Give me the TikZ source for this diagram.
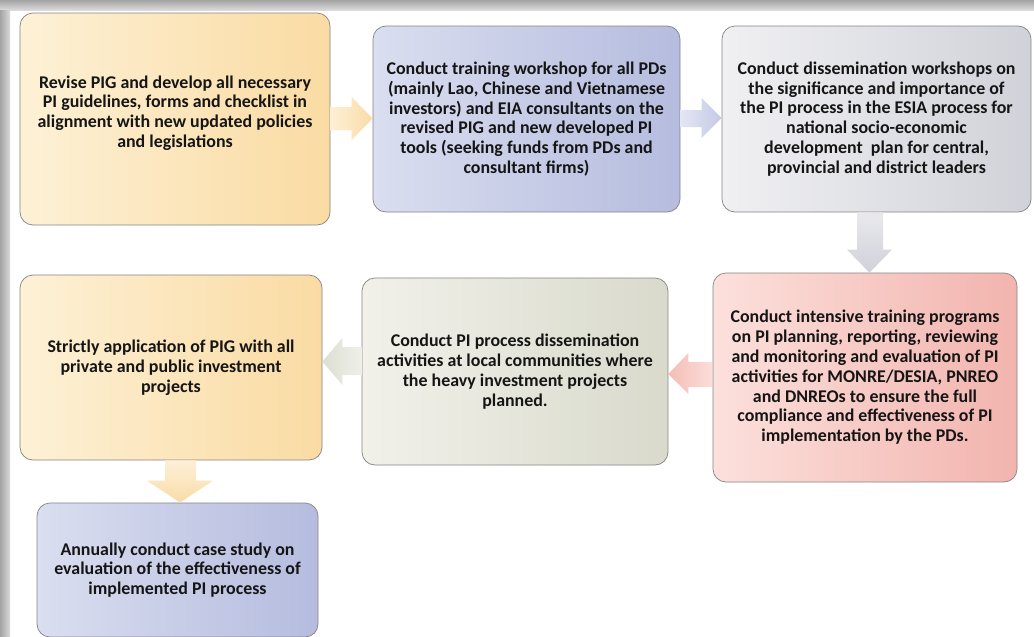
\documentclass[tikz,border=0pt]{standalone}
\usepackage{fontspec}
\setmainfont{Carlito}
\usetikzlibrary{calc}
\definecolor{yelA}{HTML}{FDF1D6}
\definecolor{yelB}{HTML}{FADBA3}
\definecolor{bluA}{HTML}{DADEF0}
\definecolor{bluB}{HTML}{B5BCDE}
\definecolor{gryA}{HTML}{F0F0F3}
\definecolor{gryB}{HTML}{D1D2D9}
\definecolor{pnkA}{HTML}{FCE0DC}
\definecolor{pnkB}{HTML}{F2B4AE}
\definecolor{beiA}{HTML}{F1F1EA}
\definecolor{beiB}{HTML}{D9DACC}
\definecolor{arYA}{HTML}{FDF0D7}
\definecolor{arYB}{HTML}{F9DCA8}
\definecolor{arBA}{HTML}{E3E6F3}
\definecolor{arBB}{HTML}{C5CAE5}
\definecolor{arGA}{HTML}{E9E9ED}
\definecolor{arGB}{HTML}{D0D1DA}
\definecolor{arPA}{HTML}{FBDEDA}
\definecolor{arPB}{HTML}{F5BDB6}
\definecolor{arEA}{HTML}{EEEFE7}
\definecolor{arEB}{HTML}{DEDFD3}
\definecolor{bordergray}{HTML}{858585}
\definecolor{txtcol}{HTML}{151515}
\definecolor{shadA}{HTML}{A4A4A4}
\definecolor{shadB}{HTML}{DADADA}
\begin{document}
\begin{tikzpicture}[x=1pt,y=-1pt,
  box/.style={draw=bordergray, line width=0.7pt, rounded corners=13pt,
    align=center, inner sep=0pt, text=txtcol,
    font=\fontsize{17.9}{19.8}\selectfont\bfseries},
  txt/.style={align=center, inner sep=0pt, text=txtcol,
    font=\fontsize{17.9}{19.8}\selectfont\bfseries}]
\useasboundingbox (0,0) rectangle (1034,637);
\begin{scope}
\clip (0,0) rectangle (1034,637);
\fill[white] (0,0) rectangle (1034,637);
\shade[top color=shadA, bottom color=shadB] (0,0) rectangle (1034,10);
\shade[left color=shadA, right color=shadB] (0,10) rectangle (10,637);

\node[box, minimum width=310pt, minimum height=212pt, left color=yelA, right color=yelB] (b1) at (175,119) {};
\node[txt] (t1) at ([yshift=6pt]b1.center)
  {Revise PIG and develop all necessary\\PI guidelines, forms and checklist in\\alignment with new updated policies\\and legislations};
\node[box, minimum width=307pt, minimum height=186pt, left color=bluA, right color=bluB] (b2) at (526.5,119)
  {Conduct training workshop for all PDs\\(mainly Lao, Chinese and Vietnamese\\investors) and EIA consultants on the\\revised PIG and new developed PI\\tools (seeking funds from PDs and\\consultant firms)};
\node[box, minimum width=309pt, minimum height=186pt, left color=gryA, right color=gryB] (b3) at (876.5,119)
  {Conduct dissemination workshops on\\the significance and importance of\\the PI process in the ESIA process for\\national socio-economic\\development\ \ plan for central,\\provincial and district leaders};
\node[box, minimum width=304pt, minimum height=209pt, left color=pnkA, right color=pnkB] (b4) at (865,377.5)
  {Conduct intensive training programs\\on PI planning, reporting, reviewing\\and monitoring and evaluation of PI\\activities for MONRE/DESIA, PNREO\\and DNREOs to ensure the full\\compliance and effectiveness of PI\\implementation by the PDs.};
\node[box, minimum width=306pt, minimum height=187pt, left color=beiA, right color=beiB] (b5) at (515,371.5)
  {Conduct PI process dissemination\\activities at local communities where\\the heavy investment projects\\planned.};
\node[box, minimum width=302pt, minimum height=185pt, left color=yelA, right color=yelB] (b6) at (171,367.5)
  {Strictly application of PIG with all\\private and public investment\\projects};
\node[box, minimum width=281pt, minimum height=134pt, left color=bluA, right color=bluB] (b7) at (177.5,570)
  {Annually conduct case study on\\evaluation of the effectiveness of\\implemented PI process};

% arrow b1 -> b2
\path[left color=arYA, right color=arYB] let \p1=(b1.east), \p2=(b2.west) in
  (\x1,-107pt) -- ({\x2-21pt},-107pt) -- ({\x2-21pt},-97pt) -- (\x2,-118.5pt)
  -- ({\x2-21pt},-140pt) -- ({\x2-21pt},-130pt) -- (\x1,-130pt) -- cycle;
% arrow b2 -> b3
\path[left color=arBA, right color=arBB] let \p1=(b2.east), \p2=(b3.west) in
  (\x1,-110pt) -- ({\x2-20pt},-110pt) -- ({\x2-20pt},-98pt) -- (\x2,-118pt)
  -- ({\x2-20pt},-138pt) -- ({\x2-20pt},-127pt) -- (\x1,-127pt) -- cycle;
% arrow b3 -> b4
\path[top color=arGA, bottom color=arGB] let \p1=(b3.south), \p2=(b4.north) in
  (857pt,\y1) -- (857pt,{\y2+23pt}) -- (847pt,{\y2+23pt}) -- (869.5pt,\y2)
  -- (892pt,{\y2+23pt}) -- (883pt,{\y2+23pt}) -- (883pt,\y1) -- cycle;
% arrow b4 -> b5
\path[left color=arPB, right color=arPA] let \p1=(b4.west), \p2=(b5.east) in
  (\x1,-362pt) -- ({\x2+20pt},-362pt) -- ({\x2+20pt},-353pt) -- (\x2,-374pt)
  -- ({\x2+20pt},-394pt) -- ({\x2+20pt},-387pt) -- (\x1,-387pt) -- cycle;
% arrow b5 -> b6
\path[left color=arEB, right color=arEA] let \p1=(b5.west), \p2=(b6.east) in
  (\x1,-347pt) -- ({\x2+20pt},-347pt) -- ({\x2+20pt},-338pt) -- (\x2,-361.5pt)
  -- ({\x2+20pt},-385pt) -- ({\x2+20pt},-375pt) -- (\x1,-375pt) -- cycle;
% arrow b6 -> b7
\path[top color=arYA, bottom color=arYB] let \p1=(b6.south), \p2=(b7.north) in
  (165pt,\y1) -- (165pt,{\y2+22pt}) -- (147pt,{\y2+22pt}) -- (180pt,\y2)
  -- (213pt,{\y2+22pt}) -- (196pt,{\y2+22pt}) -- (196pt,\y1) -- cycle;
\end{scope}
\end{tikzpicture}
\end{document}
